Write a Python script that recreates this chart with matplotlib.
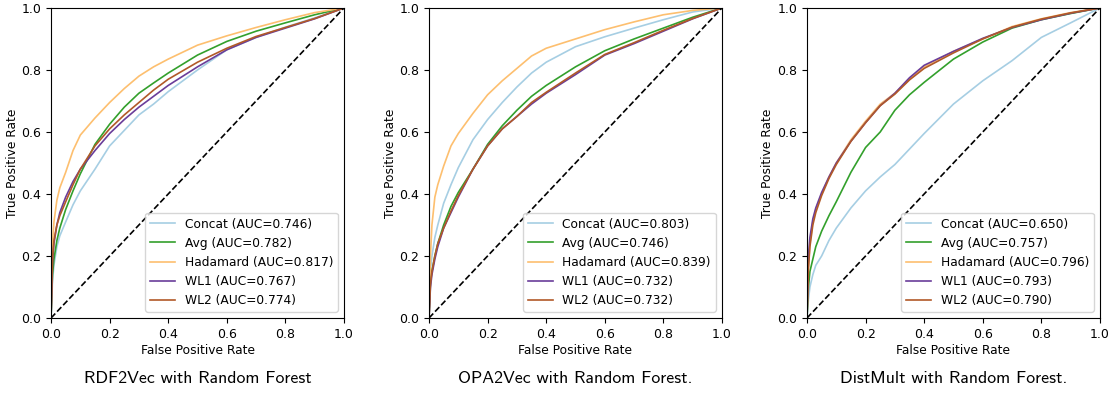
import numpy as np
import matplotlib
matplotlib.use("Agg")
import matplotlib.pyplot as plt

# shared false positive rate grid the curves were read at
fpr = [0, 0.005, 0.01, 0.02, 0.03, 0.05, 0.075, 0.1, 0.15, 0.2,
       0.25, 0.3, 0.35, 0.4, 0.5, 0.6, 0.7, 0.8, 0.9, 1.0]

methods = ["Concat", "Avg", "Hadamard", "WL1", "WL2"]
colors = ["#a6cee3", "#33a02c", "#fdbf6f", "#6a3d9a", "#b15928"]

# RDF2Vec
rdf_concat = [0, 0.12, 0.17, 0.23, 0.265, 0.31, 0.365, 0.41, 0.48, 0.555,
              0.605, 0.655, 0.69, 0.73, 0.80, 0.865, 0.905, 0.938, 0.968, 1]
rdf_avg = [0, 0.14, 0.19, 0.25, 0.29, 0.35, 0.41, 0.465, 0.56, 0.625,
           0.68, 0.725, 0.758, 0.79, 0.848, 0.892, 0.925, 0.952, 0.978, 1]
rdf_hadamard = [0, 0.24, 0.31, 0.38, 0.42, 0.47, 0.54, 0.59, 0.645, 0.695,
                0.74, 0.78, 0.81, 0.835, 0.88, 0.91, 0.937, 0.962, 0.985, 1]
rdf_wl1 = [0, 0.18, 0.24, 0.30, 0.34, 0.39, 0.44, 0.48, 0.54, 0.595,
           0.64, 0.68, 0.715, 0.75, 0.81, 0.865, 0.905, 0.935, 0.965, 1]
rdf_wl2 = [0, 0.19, 0.25, 0.30, 0.33, 0.375, 0.43, 0.48, 0.555, 0.61,
           0.655, 0.695, 0.735, 0.77, 0.825, 0.87, 0.908, 0.937, 0.966, 1]
rdf_auc = [0.746, 0.782, 0.817, 0.767, 0.774]

# OPA2Vec
opa_concat = [0, 0.155, 0.20, 0.26, 0.30, 0.37, 0.43, 0.485, 0.575, 0.64,
              0.695, 0.745, 0.79, 0.825, 0.875, 0.907, 0.935, 0.962, 0.987, 1]
opa_avg = [0, 0.12, 0.15, 0.20, 0.24, 0.30, 0.36, 0.405, 0.48, 0.56,
           0.62, 0.67, 0.715, 0.75, 0.81, 0.862, 0.90, 0.935, 0.97, 1]
opa_hadamard = [0, 0.20, 0.30, 0.39, 0.43, 0.49, 0.555, 0.595, 0.66, 0.72,
                0.765, 0.805, 0.845, 0.87, 0.90, 0.93, 0.955, 0.978, 0.992, 1]
opa_wl1 = [0, 0.10, 0.14, 0.19, 0.23, 0.29, 0.34, 0.39, 0.48, 0.555,
           0.61, 0.65, 0.69, 0.725, 0.785, 0.848, 0.885, 0.925, 0.965, 1]
opa_wl2 = [0, 0.11, 0.15, 0.20, 0.24, 0.29, 0.345, 0.395, 0.48, 0.555,
           0.61, 0.65, 0.695, 0.728, 0.79, 0.85, 0.888, 0.928, 0.966, 1]
opa_auc = [0.803, 0.746, 0.839, 0.732, 0.732]

# DistMult
dm_concat = [0, 0.06, 0.10, 0.14, 0.17, 0.20, 0.25, 0.29, 0.355, 0.41,
             0.455, 0.495, 0.545, 0.595, 0.69, 0.765, 0.83, 0.905, 0.952, 1]
dm_avg = [0, 0.10, 0.15, 0.19, 0.23, 0.28, 0.33, 0.375, 0.47, 0.55,
          0.60, 0.67, 0.72, 0.76, 0.835, 0.89, 0.935, 0.962, 0.982, 1]
dm_hadamard = [0, 0.17, 0.24, 0.31, 0.35, 0.40, 0.455, 0.50, 0.575, 0.635,
               0.69, 0.725, 0.77, 0.81, 0.86, 0.90, 0.94, 0.965, 0.985, 1]
dm_wl1 = [0, 0.20, 0.26, 0.32, 0.355, 0.405, 0.455, 0.50, 0.57, 0.63,
          0.685, 0.725, 0.775, 0.815, 0.86, 0.902, 0.937, 0.962, 0.983, 1]
dm_wl2 = [0, 0.16, 0.23, 0.30, 0.34, 0.395, 0.45, 0.495, 0.57, 0.63,
          0.685, 0.722, 0.768, 0.805, 0.855, 0.90, 0.938, 0.964, 0.984, 1]
dm_auc = [0.650, 0.757, 0.796, 0.793, 0.790]

captions = ["RDF2Vec with Random Forest",
            "OPA2Vec with Random Forest.",
            "DistMult with Random Forest."]

panels = [
    ([rdf_concat, rdf_avg, rdf_hadamard, rdf_wl1, rdf_wl2], rdf_auc),
    ([opa_concat, opa_avg, opa_hadamard, opa_wl1, opa_wl2], opa_auc),
    ([dm_concat, dm_avg, dm_hadamard, dm_wl1, dm_wl2], dm_auc),
]

fig = plt.figure(figsize=(11.14, 3.93), dpi=100)
lefts = [0.0458, 0.3851, 0.7244]

for left, (curves, aucs), cap in zip(lefts, panels, captions):
    ax = fig.add_axes([left, 0.1908, 0.263, 0.789])
    for name, tpr, auc, c in zip(methods, curves, aucs, colors):
        ax.plot(fpr, tpr, color=c, lw=1.2, label="%s (AUC=%.3f)" % (name, auc))
    ax.plot([0, 1], [0, 1], "k--", lw=1.2)
    ax.set_xlim(0, 1)
    ax.set_ylim(0, 1)
    ax.tick_params(labelsize=9)
    ax.set_xlabel("False Positive Rate", fontsize=8.8, labelpad=2)
    ax.set_ylabel("True Positive Rate", fontsize=8.8, labelpad=2)
    ax.legend(loc="lower right", fontsize=8.8)
    fig.text(left + 0.263 / 2, 0.038, cap, ha="center", va="center",
             fontsize=12.8, family="cmss10")

fig.savefig("out.png", dpi=100)
